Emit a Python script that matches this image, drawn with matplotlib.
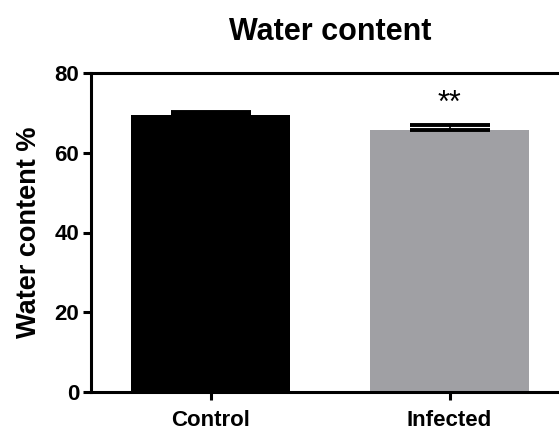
import matplotlib

matplotlib.use("Agg")
import matplotlib.pyplot as plt

plt.rcParams["font.family"] = ["Liberation Sans", "DejaVu Sans"]
plt.rcParams["font.weight"] = "bold"

groups = ["Control", "Infected"]
means = [69.4, 65.7]
sems = [0.9, 1.2]
bar_colors = ["#000000", "#a0a0a4"]
significance = ["", "**"]
y_ticks = [0, 20, 40, 60, 80]


def main() -> None:
    fig = plt.figure(figsize=(5.59, 4.32), dpi=100)
    # right edge of the axes is deliberately past the figure (cropped like the source)
    ax = fig.add_axes([91 / 559, 40 / 432, 478 / 559, 319 / 432])

    x = list(range(len(groups)))
    ax.bar(x, means, width=0.665, color=bar_colors, edgecolor="none", zorder=2)
    ax.errorbar(
        x,
        means,
        yerr=[[0] * len(sems), sems],
        fmt="none",
        ecolor="black",
        elinewidth=1.2,
        capsize=28.5,
        capthick=2.8,
        zorder=3,
    )
    for xi, mean, sem, mark in zip(x, means, sems, significance):
        if mark:
            ax.text(xi, mean + sem + 1.6, mark, ha="center", va="bottom",
                    fontsize=22, fontweight="normal")

    ax.set_xlim(-0.5, 1.5)
    ax.set_ylim(0, 80)
    ax.set_xticks(x)
    ax.set_xticklabels(groups, fontsize=16, fontweight="bold")
    ax.set_yticks(y_ticks)
    ax.set_yticklabels([str(v) for v in y_ticks], fontsize=16, fontweight="bold")
    ax.tick_params(axis="both", direction="out", length=6, width=2.2)
    ax.tick_params(axis="x", pad=7)
    ax.tick_params(axis="y", pad=2.5)
    for side in ["left", "bottom", "top"]:
        ax.spines[side].set_linewidth(2.2)
    ax.spines["right"].set_visible(False)

    ax.set_ylabel("Water content %", fontsize=19.5, fontweight="bold", labelpad=9)
    ax.set_title("Water content", fontsize=22, fontweight="bold", pad=24)

    fig.savefig("out.png", dpi=100, facecolor="white")
    plt.close(fig)


if __name__ == "__main__":
    main()
